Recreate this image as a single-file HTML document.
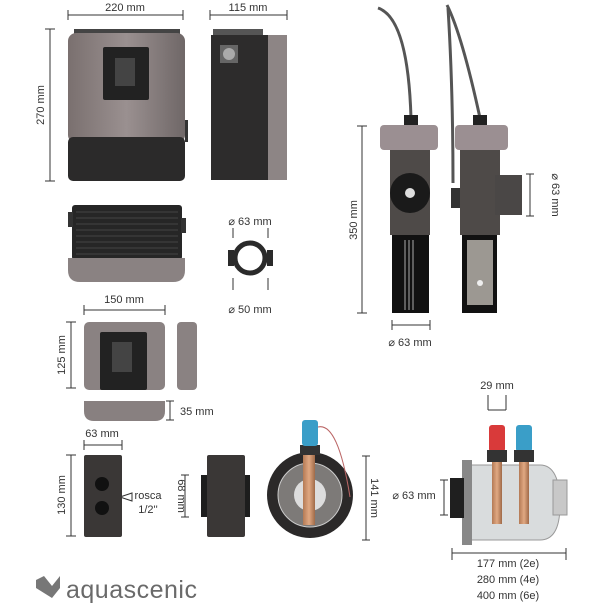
<!DOCTYPE html>
<html><head><meta charset="utf-8"><style>
html,body{margin:0;padding:0;background:#fff}
svg{display:block}
text{font-family:"Liberation Sans",sans-serif;fill:#333;font-size:11px}
</style></head><body>
<svg width="603" height="603" viewBox="0 0 603 603">
<defs>
<linearGradient id="g1" x1="0" x2="1"><stop offset="0" stop-color="#7a706f"/><stop offset="0.5" stop-color="#9a9090"/><stop offset="1" stop-color="#6f6767"/></linearGradient>
<linearGradient id="cu" x1="0" x2="1"><stop offset="0" stop-color="#b47a55"/><stop offset="0.5" stop-color="#e0a882"/><stop offset="1" stop-color="#a06a48"/></linearGradient>
</defs>
<g stroke="#333" stroke-width="1" fill="none">
<!-- dims top -->
<path d="M68 10v10M183 10v10M68 15h115"/>
<path d="M210 10v10M287 10v10M210 15h77"/>
<path d="M45 29h10M45 181h10M50 29v152"/>
<path d="M233 228v10M268 228v10"/>
<path d="M233 278v12M268 278v12"/>
<path d="M357 126h10M357 313h10M362 126v187"/>
<path d="M392 320v10M430 320v10M392 325h38"/>
<path d="M526 174h8M526 216h8M530 174v42"/>
<path d="M84 305v10M165 305v10M84 310h81"/>
<path d="M66 322h10M66 388h10M71 322v66"/>
<path d="M166 401h8M166 420h8M170 401v19"/>
<path d="M84 440v10M122 440v10M84 445h38"/>
<path d="M66 455h10M66 536h10M71 455v81"/>
<path d="M181 475h8M181 517h8M185 475v42"/>
<path d="M362 456h8M362 540h8M366 456v84"/>
<path d="M440 480h8M440 515h8M444 480v35"/>
<path d="M488 395v15M506 395v15M488 410h18"/>
<path d="M452 548v12M566 548v12M452 553h114"/>
<path d="M120 497l12-4v8z"/>
</g>
<!-- main controller front -->
<rect x="74" y="29" width="106" height="6" fill="#444"/>
<rect x="68" y="33" width="117" height="110" rx="8" fill="url(#g1)"/>
<rect x="68" y="137" width="117" height="44" rx="5" fill="#2b2a2a"/>
<rect x="103" y="47" width="46" height="53" rx="2" fill="#222"/>
<rect x="115" y="58" width="20" height="28" fill="#444"/>
<rect x="185" y="120" width="3" height="22" fill="#333"/>
<!-- side view -->
<rect x="213" y="29" width="50" height="6" fill="#555"/>
<rect x="211" y="35" width="60" height="145" fill="#2d2c2c"/>
<rect x="268" y="35" width="19" height="145" fill="#8d8585"/>
<rect x="220" y="45" width="18" height="18" fill="#666"/>
<circle cx="229" cy="54" r="6" fill="#aaa"/>
<!-- bottom view -->
<rect x="72" y="205" width="110" height="55" rx="3" fill="#262626"/>
<g stroke="#444"><path d="M76 212h102M76 218h102M76 224h102M76 230h102M76 236h102M76 242h102M76 248h102M76 254h102"/></g>
<rect x="68" y="212" width="5" height="15" fill="#333"/><rect x="181" y="218" width="5" height="15" fill="#333"/>
<path d="M68 258h117v12q0 12-12 12h-93q-12 0-12-12z" fill="#8a8282"/>
<!-- ring -->
<circle cx="250" cy="258" r="15" fill="none" stroke="#2a2a2a" stroke-width="5"/>
<rect x="228" y="250" width="6" height="16" fill="#2a2a2a"/><rect x="267" y="250" width="6" height="16" fill="#2a2a2a"/>
<!-- cells top right -->
<g fill="none" stroke="#555" stroke-width="3">
<path d="M378 8q30 10 33 110"/><path d="M447 5q15 30 33 113"/><path d="M448 8q5 80 5 175"/>
</g>
<rect x="404" y="115" width="14" height="12" fill="#222"/><rect x="473" y="115" width="14" height="12" fill="#222"/>
<rect x="380" y="125" width="58" height="25" rx="4" fill="#9b8f92"/>
<rect x="390" y="150" width="40" height="85" fill="#4e4a48"/>
<circle cx="410" cy="193" r="20" fill="#1a1a1a"/><circle cx="410" cy="193" r="5" fill="#ddd"/>
<rect x="392" y="235" width="37" height="78" fill="#111"/>
<g stroke="#aaa"><path d="M405 240v70M409 240v70M413 240v70"/></g>
<rect x="455" y="125" width="53" height="25" rx="4" fill="#9b8f92"/>
<rect x="460" y="150" width="40" height="85" fill="#4e4a48"/>
<path d="M495 175h27v40h-27z" fill="#4a4746"/><rect x="451" y="188" width="9" height="20" fill="#333"/>
<rect x="462" y="235" width="35" height="78" fill="#111"/>
<rect x="467" y="240" width="26" height="65" fill="#9c9892"/>
<circle cx="480" cy="283" r="3" fill="#eee"/>
<!-- small controller -->
<rect x="84" y="322" width="81" height="68" rx="5" fill="#8a8282"/>
<rect x="100" y="332" width="47" height="58" rx="2" fill="#222"/>
<rect x="112" y="342" width="20" height="30" fill="#444"/>
<rect x="177" y="322" width="20" height="68" rx="4" fill="#8a8282"/>
<path d="M84 401h81v10q0 10-10 10h-61q-10 0-10-10z" fill="#888080"/>
<!-- tube -->
<rect x="84" y="455" width="38" height="82" rx="2" fill="#3a3736"/>
<circle cx="102" cy="484" r="7" fill="#111"/><circle cx="102" cy="508" r="7" fill="#111"/>
<rect x="207" y="455" width="38" height="82" rx="2" fill="#3a3736"/>
<rect x="201" y="475" width="6" height="42" fill="#1d1d1d"/><rect x="245" y="475" width="5" height="42" fill="#1d1d1d"/>
<!-- flange -->
<circle cx="310" cy="495" r="43" fill="#2b2929"/>
<circle cx="310" cy="495" r="32" fill="#7d7a78" stroke="#ccc"/>
<circle cx="310" cy="495" r="16" fill="#ddd"/>
<path d="M318 427q20-5 32 70" stroke="#b66" fill="none"/>
<rect x="300" y="445" width="20" height="10" fill="#333"/>
<rect x="302" y="420" width="16" height="26" rx="3" fill="#3a9ec8"/>
<rect x="303" y="455" width="12" height="70" fill="url(#cu)"/>
<!-- right cell -->
<path d="M470 465h70q20 0 20 40v0q0 35-20 35h-70z" fill="#d9dcdd" stroke="#999"/>
<rect x="462" y="460" width="10" height="85" fill="#888"/>
<rect x="450" y="478" width="14" height="40" fill="#1f1f1f"/>
<rect x="553" y="480" width="14" height="35" fill="#c8c8c8" stroke="#999"/>
<rect x="489" y="425" width="16" height="27" rx="3" fill="#d93a3a"/>
<rect x="516" y="425" width="16" height="27" rx="3" fill="#3a9ec8"/>
<rect x="487" y="450" width="20" height="12" fill="#333"/><rect x="514" y="450" width="20" height="12" fill="#333"/>
<rect x="492" y="462" width="10" height="62" fill="url(#cu)"/><rect x="519" y="462" width="10" height="62" fill="url(#cu)"/>
<!-- logo -->
<path d="M36 580l8-4 8 10 8-10v12l-8 10-16-10z" fill="#777"/>
</g>
<text x="125" y="11" text-anchor="middle">220 mm</text>
<text x="248" y="11" text-anchor="middle">115 mm</text>
<text transform="translate(44 105) rotate(-90)" text-anchor="middle">270 mm</text>
<text x="250" y="225" text-anchor="middle">⌀ 63 mm</text>
<text x="250" y="313" text-anchor="middle">⌀ 50 mm</text>
<text transform="translate(357 220) rotate(-90)" text-anchor="middle">350 mm</text>
<text x="410" y="346" text-anchor="middle">⌀ 63 mm</text>
<text transform="translate(552 195) rotate(90)" text-anchor="middle">⌀ 63 mm</text>
<text x="124" y="303" text-anchor="middle">150 mm</text>
<text transform="translate(65 355) rotate(-90)" text-anchor="middle">125 mm</text>
<text x="180" y="415">35 mm</text>
<text x="102" y="437" text-anchor="middle">63 mm</text>
<text transform="translate(65 495) rotate(-90)" text-anchor="middle">130 mm</text>
<text x="148" y="499" text-anchor="middle">rosca</text>
<text x="148" y="513" text-anchor="middle">1/2''</text>
<text transform="translate(178 496) rotate(90)" text-anchor="middle">68 mm</text>
<text transform="translate(371 498) rotate(90)" text-anchor="middle">141 mm</text>
<text x="414" y="499" text-anchor="middle">⌀ 63 mm</text>
<text x="497" y="389" text-anchor="middle">29 mm</text>
<text x="508" y="567" text-anchor="middle">177 mm (2e)</text>
<text x="508" y="583" text-anchor="middle">280 mm (4e)</text>
<text x="508" y="599" text-anchor="middle">400 mm (6e)</text>
<text x="66" y="598" style="font-size:25px;fill:#6a6a6a;letter-spacing:0.5px">aquascenic</text>
</svg>
</body></html>
